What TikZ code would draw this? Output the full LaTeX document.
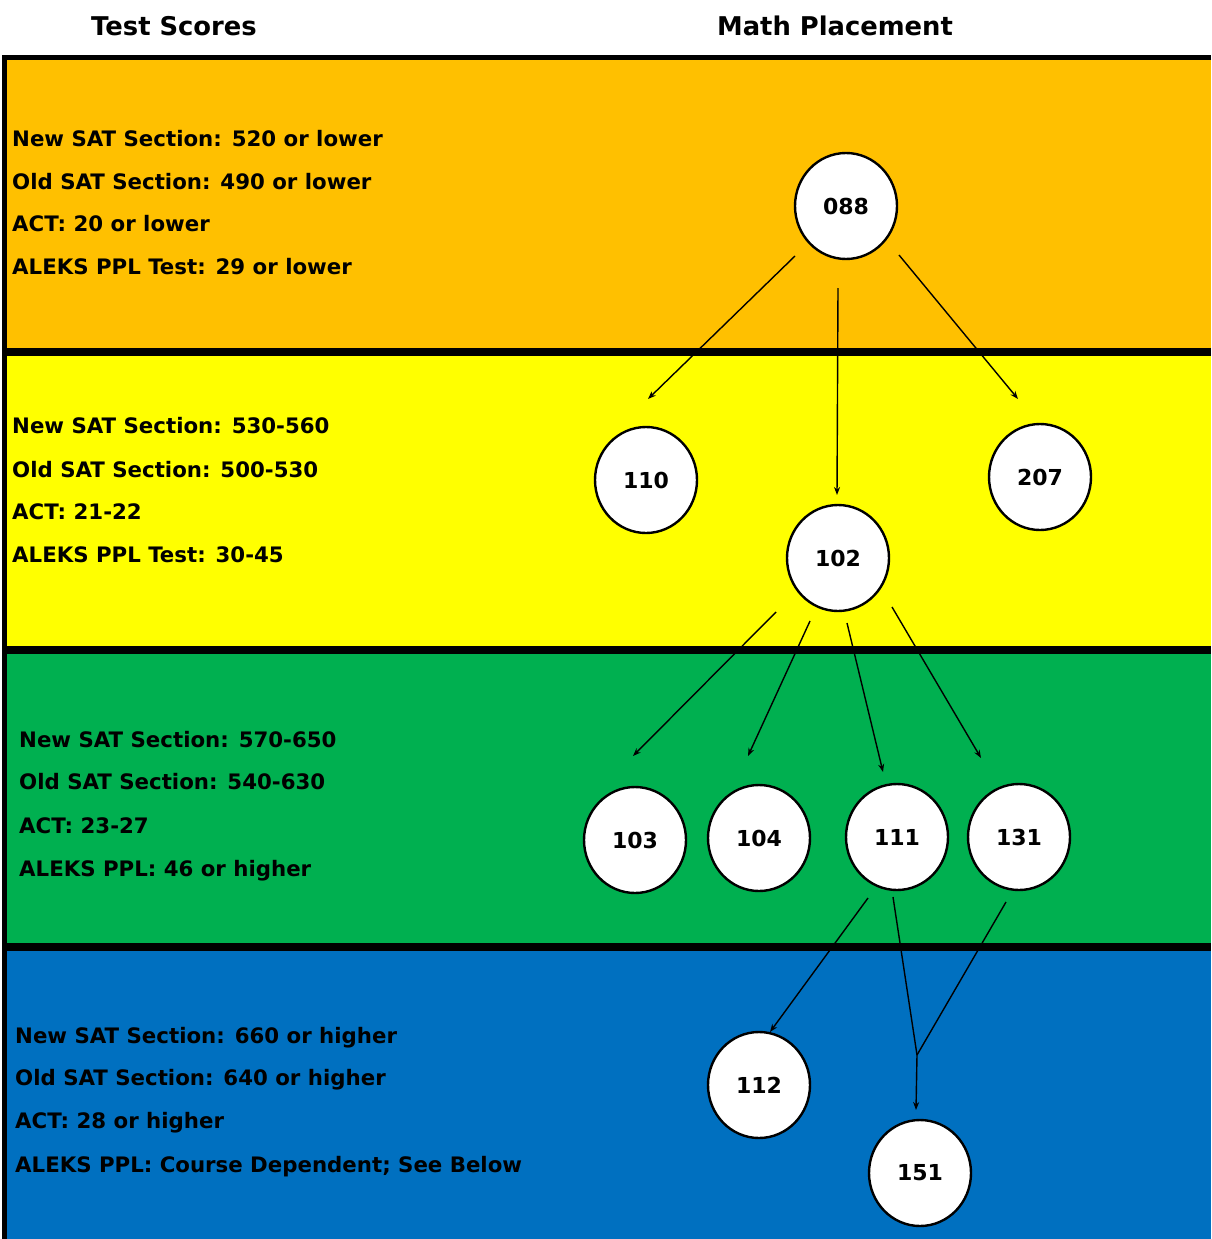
\documentclass[tikz,border=0pt]{standalone}
\usepackage{fontspec}
\setmainfont{DejaVu Sans}
\usetikzlibrary{shapes.geometric,arrows.meta,calc}

\definecolor{bandorange}{HTML}{FFC000}
\definecolor{bandyellow}{HTML}{FFFF00}
\definecolor{bandgreen}{HTML}{00B050}
\definecolor{bandblue}{HTML}{0070C0}

\tikzset{
  course/.style={ellipse, draw=black, line width=2.4pt, fill=white,
    minimum width=102pt, minimum height=106pt, inner sep=0pt,
    font=\bfseries\fontsize{22}{22}\selectfont},
  score/.style={anchor=base west, inner sep=0pt,
    font=\bfseries\fontsize{21.3}{21.3}\selectfont},
  header/.style={anchor=base, inner sep=0pt,
    font=\bfseries\fontsize{25.8}{25.8}\selectfont},
  flow/.style={-{Stealth[length=8pt,width=6pt]}, line width=1.4pt},
  plain/.style={line width=1.4pt}
}

\begin{document}
\begin{tikzpicture}[x=1pt,y=-1pt]
  \useasboundingbox (0,0) rectangle (1211,1239);
  \fill[white] (0,0) rectangle (1211,1239);

  % colour bands
  \fill[bandorange] (4.5,57.5) rectangle (1211,352);
  \fill[bandyellow] (4.5,352) rectangle (1211,650);
  \fill[bandgreen]  (4.5,650) rectangle (1211,947);
  \fill[bandblue]   (4.5,947) rectangle (1211,1239);

  % frame and band separators
  \draw[line width=5pt] (1211,57.5) -- (4.5,57.5) -- (4.5,1239);
  \draw[line width=8.5pt] (4.5,352) -- (1211,352);
  \draw[line width=8.5pt] (4.5,650) -- (1211,650);
  \draw[line width=8.5pt] (4.5,947) -- (1211,947);

  % column headers
  \node[header] (hscores) at (174,36) {Test Scores};
  \node[header] (hplace) at (835,36) {Math Placement};

  % score ranges
  \node[score] (s1a) at (12,146) {New SAT Section: 520 or lower};
  \node[score] (s1b) at (12,189) {Old SAT Section: 490 or lower};
  \node[score] (s1c) at (12,231) {ACT: 20 or lower};
  \node[score] (s1d) at (12,274) {ALEKS PPL Test: 29 or lower};

  \node[score] (s2a) at (12,433) {New SAT Section: 530-560};
  \node[score] (s2b) at (12,477) {Old SAT Section: 500-530};
  \node[score] (s2c) at (12,519) {ACT: 21-22};
  \node[score] (s2d) at (12,562) {ALEKS PPL Test: 30-45};

  \node[score] (s3a) at (19,747) {New SAT Section: 570-650};
  \node[score] (s3b) at (19,789) {Old SAT Section: 540-630};
  \node[score] (s3c) at (19,833) {ACT: 23-27};
  \node[score] (s3d) at (19,876) {ALEKS PPL: 46 or higher};

  \node[score] (s4a) at (15,1043) {New SAT Section: 660 or higher};
  \node[score] (s4b) at (15,1085) {Old SAT Section: 640 or higher};
  \node[score] (s4c) at (15,1128) {ACT: 28 or higher};
  \node[score] (s4d) at (15,1172) {ALEKS PPL: Course Dependent; See Below};

  % courses
  \node[course] (c088) at (846,206) {088};
  \node[course] (c110) at (646,480) {110};
  \node[course] (c207) at (1040,477) {207};
  \node[course] (c102) at (838,558) {102};
  \node[course] (c103) at (635,840) {103};
  \node[course] (c104) at (759,838) {104};
  \node[course] (c111) at (897,837) {111};
  \node[course] (c131) at (1019,837) {131};
  \node[course] (c112) at (759,1085) {112};
  \node[course] (c151) at (920,1173) {151};

  % connector end points
  \coordinate (a1s) at ($(c088)+(-51,50)$);
  \coordinate (a1e) at ($(c110)+(2,-81)$);
  \coordinate (a2s) at ($(c088)+(-8,82)$);
  \coordinate (a2e) at ($(c102)+(-1,-63)$);
  \coordinate (a3s) at ($(c088)+(53,49)$);
  \coordinate (a3e) at ($(c207)+(-22,-78)$);

  \coordinate (b1s) at ($(c102)+(-62,54)$);
  \coordinate (b1e) at ($(c103)+(-2,-84)$);
  \coordinate (b2s) at ($(c102)+(-28,63)$);
  \coordinate (b2e) at ($(c104)+(-11,-82)$);
  \coordinate (b3s) at ($(c102)+(9,65)$);
  \coordinate (b3e) at ($(c111)+(-14,-65)$);
  \coordinate (b4s) at ($(c102)+(54,49)$);
  \coordinate (b4e) at ($(c131)+(-38,-79)$);

  \coordinate (d1s) at ($(c111)+(-29,61)$);
  \coordinate (d1e) at ($(c112)+(11,-53)$);
  \coordinate (d2s) at ($(c111)+(-4,60)$);
  \coordinate (d3s) at ($(c131)+(-13,65)$);
  \coordinate (merge) at (917,1055);
  \coordinate (d4e) at ($(c151)+(-4,-63)$);

  % placement connectors
  \draw[flow] (a1s) -- (a1e);
  \draw[flow] (a2s) -- (a2e);
  \draw[flow] (a3s) -- (a3e);

  \draw[flow] (b1s) -- (b1e);
  \draw[flow] (b2s) -- (b2e);
  \draw[flow] (b3s) -- (b3e);
  \draw[flow] (b4s) -- (b4e);

  \draw[flow] (d1s) -- (d1e);
  \draw[plain] (d2s) -- (merge);
  \draw[plain] (d3s) -- (merge);
  \draw[flow] (merge) -- (d4e);
\end{tikzpicture}
\end{document}
